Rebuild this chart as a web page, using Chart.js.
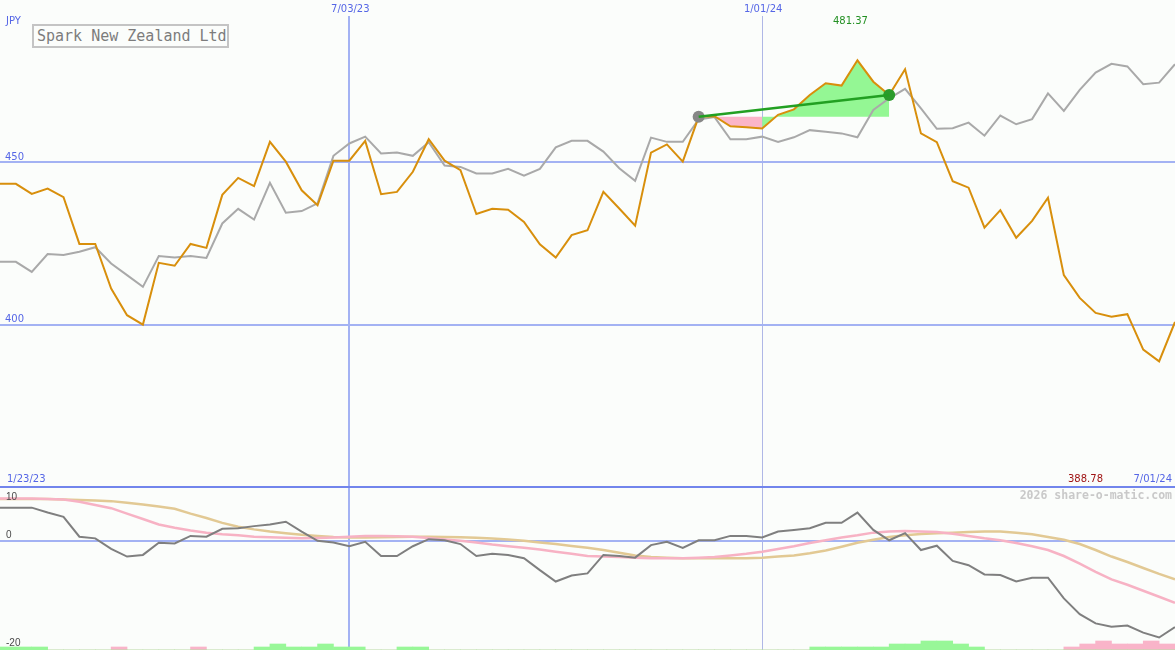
<!DOCTYPE html>
<html>
<head>
<meta charset="utf-8">
<title>Spark New Zealand Ltd</title>
<script src="https://cdn.jsdelivr.net/npm/chart.js@4.4.1/dist/chart.umd.min.js"></script>
<style>
  html, body { margin: 0; padding: 0; background: #fbfdfb; }
  #wrap { position: relative; width: 1175px; height: 650px; overflow: hidden; background: #fbfdfb; }
  #wrap canvas { position: absolute; left: 0; top: 0; }
  #title {
    position: absolute; left: 32px; top: 24px; width: 197px; height: 24px;
    box-sizing: border-box; border: 2px solid #c4c4c4; padding-left: 3px;
    font: 15px/20px "DejaVu Sans Mono", monospace; color: #7c7c7c;
    white-space: nowrap; background: #fbfdfb;
  }
</style>
</head>
<body>
<div id="wrap">
  <canvas id="priceChart" width="1175" height="650"></canvas>
  <canvas id="oscChart" width="1175" height="650"></canvas>
  <div id="title">Spark New Zealand Ltd</div>
</div>
<script>
// ---- weekly closes, Spark New Zealand Ltd (JPY) ----
const weeks = [
  '1/30/23','2/06/23','2/13/23','2/20/23','2/27/23','3/06/23','3/13/23','3/20/23','3/27/23','4/03/23',
  '4/10/23','4/17/23','4/24/23','5/01/23','5/08/23','5/15/23','5/22/23','5/29/23','6/05/23','6/12/23',
  '6/19/23','6/26/23','7/03/23','7/10/23','7/17/23','7/24/23','7/31/23','8/07/23','8/14/23','8/21/23',
  '8/28/23','9/04/23','9/11/23','9/18/23','9/25/23','10/02/23','10/09/23','10/16/23','10/23/23','10/30/23',
  '11/06/23','11/13/23','11/20/23','11/27/23','12/04/23','12/11/23','12/18/23','12/25/23','1/01/24','1/08/24',
  '1/15/24','1/22/24','1/29/24','2/05/24','2/12/24','2/19/24','2/26/24','3/04/24','3/11/24','3/18/24',
  '3/25/24','4/01/24','4/08/24','4/15/24','4/22/24','4/29/24','5/06/24','5/13/24','5/20/24','5/27/24',
  '6/03/24','6/10/24','6/17/24','6/24/24','7/01/24'
];

const price = [
  443.4, 443.4, 440.3, 441.9, 439.3, 424.9, 424.9, 411.2, 403.0, 400.1,
  419.1, 418.2, 424.9, 423.7, 440.0, 445.2, 442.7, 456.3, 450.2, 441.4,
  436.8, 450.5, 450.5, 456.6, 440.2, 440.9, 447.1, 457.1, 450.5, 447.6,
  434.1, 435.7, 435.4, 431.7, 424.8, 420.7, 427.6, 429.1, 440.9, 435.8,
  430.5, 453.0, 455.5, 450.2, 464.0, 464.2, 461.1, 460.8, 460.4, 464.6,
  466.3, 470.7, 474.3, 473.6, 481.37, 474.8, 470.7, 478.6, 458.9, 456.2,
  444.2, 442.2, 429.9, 435.3, 426.8, 432.0, 439.1, 415.3, 408.3, 403.7,
  402.5, 403.3, 392.4, 388.78, 400.9
];

// market index rebased to the same currency scale
const marketIndex = [
  419.4, 419.4, 416.3, 421.8, 421.5, 422.5, 423.9, 418.9, 415.3, 411.7,
  421.2, 420.7, 421.2, 420.6, 431.2, 435.7, 432.4, 443.7, 434.5, 435.0,
  437.4, 452.0, 455.8, 457.9, 452.7, 453.0, 452.0, 456.2, 449.0, 448.6,
  446.6, 446.6, 448.0, 445.9, 448.0, 454.6, 456.6, 456.6, 453.3, 448.2,
  444.3, 457.6, 456.3, 456.3, 463.2, 463.9, 457.1, 457.1, 457.9, 456.3,
  457.7, 459.9, 459.4, 458.9, 457.7, 466.1, 469.7, 472.6, 466.6, 460.3,
  460.5, 462.2, 458.2, 464.4, 461.7, 463.3, 471.2, 465.8, 472.3, 477.6,
  480.3, 479.5, 474.0, 474.5, 480.2
];

// oscillator panel
const momentum = [
  6.2, 6.2, 6.2, 5.3, 4.5, 0.85, 0.55, -1.4, -2.8, -2.5,
  -0.25, -0.4, 1.0, 0.85, 2.3, 2.4, 2.8, 3.1, 3.6, 1.8,
  0.1, -0.2, -0.9, -0.1, -2.7, -2.7, -0.9, 0.4, 0.2, -0.5,
  -2.7, -2.3, -2.5, -3.1, -5.3, -7.4, -6.3, -5.9, -2.5, -2.7,
  -3.0, -0.7, -0.1, -1.2, 0.2, 0.2, 1.0, 1.0, 0.7, 1.8,
  2.1, 2.4, 3.4, 3.4, 5.3, 2.1, 0.2, 1.5, -1.6, -0.8,
  -3.6, -4.4, -6.1, -6.2, -7.4, -6.7, -6.7, -10.5, -13.4, -15.1,
  -15.7, -15.5, -16.8, -17.7, -15.8
];
const signalLine = [
  7.9, 7.9, 7.9, 7.8, 7.7, 7.3, 6.7, 6.1, 5.1, 4.1,
  3.1, 2.5, 2.0, 1.6, 1.3, 1.1, 0.85, 0.75, 0.65, 0.55,
  0.6, 0.7, 0.85, 1.0, 1.0, 0.95, 0.85, 0.6, 0.35, 0.1,
  -0.2, -0.6, -0.9, -1.2, -1.5, -1.9, -2.3, -2.7, -2.8, -2.9,
  -3.0, -3.1, -3.1, -3.1, -3.0, -2.9, -2.6, -2.3, -1.9, -1.4,
  -0.9, -0.3, 0.2, 0.7, 1.1, 1.6, 1.8, 1.9, 1.8, 1.7,
  1.4, 1.0, 0.55, 0.2, -0.3, -0.9, -1.6, -2.7, -4.1, -5.6,
  -7.0, -8.0, -9.1, -10.2, -11.3
];
const slowLine = [
  7.8, 7.8, 7.8, 7.8, 7.7, 7.6, 7.5, 7.4, 7.1, 6.8,
  6.4, 6.0, 5.1, 4.3, 3.4, 2.7, 2.2, 1.8, 1.5, 1.2,
  1.0, 0.8, 0.7, 0.7, 0.75, 0.8, 0.85, 0.85, 0.8, 0.75,
  0.65, 0.5, 0.35, 0.1, -0.2, -0.5, -0.85, -1.2, -1.6, -2.1,
  -2.6, -2.9, -3.0, -3.1, -3.1, -3.1, -3.1, -3.1, -3.0, -2.8,
  -2.6, -2.2, -1.7, -1.0, -0.25, 0.3, 0.8, 1.1, 1.35, 1.5,
  1.6, 1.7, 1.8, 1.8, 1.6, 1.3, 0.8, 0.3, -0.5, -1.6,
  -2.8, -3.8, -4.9, -6.0, -7.0
];
// weekly strength blocks along the panel floor (+ green, - pink)
const strength = [
  1, 1, 1, 0, 0, 0, 0, -1, 0, 0,
  0, 0, -1, 0, 0, 0, 1, 2, 1, 1,
  2, 1, 1, 0, 0, 1, 1, 0, 0, 0,
  0, 0, 0, 0, 0, 0, 0, 0, 0, 0,
  0, 0, 0, 0, 0, 0, 0, 0, 0, 0,
  0, 1, 1, 1, 1, 1, 2, 2, 3, 3,
  2, 1, 0, 0, 0, 0, 0, -1, -2, -3,
  -2, -2, -3, -2, 0
];

const priceTicks = [400, 450];
const oscTicks = [10, 0, -20];
const dateLines = ['7/03/23', '1/01/24'];
const rangeStart = '1/23/23';
const rangeEnd = '7/01/24';
const trendFrom = '12/04/23';
const trendTo = '2/26/24';
const currency = 'JPY';
const watermark = '2026 share-o-matic.com';

// ---- styling ----
const BLUE_TEXT = '#5566e6';
const GRID_BLUE = '#a3b2f3';
const GRID_GREY = '#afb7e6';
const PANEL_EDGE = '#7285ec';
const ORANGE = '#d88f0c';
const GREY = '#a9a9a9';
const FILL_GREEN = '#94f794';
const FILL_PINK = '#fbb5c8';
const TREND_GREEN = '#22a022';

const X_MAX = weeks.length - 1;
const startIdx = weeks.indexOf(trendFrom);
const endIdx = weeks.indexOf(trendTo);
const yearIdx = weeks.indexOf(dateLines[1]);
const baseLevel = price[startIdx];

const hiVal = Math.max(...price);
const loVal = Math.min(...price);
const hiIdx = price.indexOf(hiVal);

const toXY = arr => arr.map((v, i) => ({ x: i, y: v }));
const span = (arr, a, b) => arr.slice(a, b + 1).map((v, k) => ({ x: a + k, y: v }));

const xScale = () => ({
  type: 'linear', min: 0, max: X_MAX, offset: false,
  afterBuildTicks: s => { s.ticks = dateLines.map(d => ({ value: weeks.indexOf(d) })); },
  ticks: { display: false },
  border: { display: false },
  grid: {
    offset: false,
    drawTicks: false,
    color: c => (c.index === 0 ? GRID_BLUE : GRID_GREY),
    lineWidth: c => (c.index === 0 ? 2 : 1)
  }
});

const lineDefaults = { pointRadius: 0, tension: 0, fill: false };

// labels drawn on the price panel
const priceText = {
  id: 'priceText',
  afterDraw(chart) {
    const { ctx } = chart;
    const x = chart.scales.x, y = chart.scales.y;
    ctx.save();
    ctx.font = '10px "DejaVu Sans"';
    ctx.fillStyle = BLUE_TEXT;
    ctx.textAlign = 'left';
    ctx.textBaseline = 'middle';
    ctx.fillText(currency, 6, 21);
    ctx.textBaseline = 'alphabetic';
    y.ticks.forEach(t => ctx.fillText(String(t.value), 5, y.getPixelForValue(t.value) - 2.5));
    ctx.textAlign = 'center';
    ctx.textBaseline = 'middle';
    x.ticks.forEach(t => ctx.fillText(weeks[t.value], x.getPixelForValue(t.value) + 1, 9));
    ctx.textAlign = 'left';
    ctx.fillText(rangeStart, 7, 479);
    ctx.textAlign = 'right';
    ctx.fillText(rangeEnd, chart.width - 3, 479);
    ctx.fillStyle = '#a01414';
    ctx.fillText(loVal.toFixed(2), chart.width - 72, 479);
    ctx.fillStyle = '#239023';
    ctx.textAlign = 'center';
    ctx.fillText(hiVal.toFixed(2), x.getPixelForValue(hiIdx) - 7, 21);
    ctx.restore();
  }
};

// labels drawn on the oscillator panel
const oscText = {
  id: 'oscText',
  afterDraw(chart) {
    const { ctx, chartArea } = chart;
    const y = chart.scales.y;
    ctx.save();
    ctx.font = '10px "Liberation Sans"';
    ctx.fillStyle = '#4a4a4a';
    ctx.textAlign = 'left';
    ctx.textBaseline = 'alphabetic';
    oscTicks.forEach(v => {
      const py = Math.min(Math.max(y.getPixelForValue(v) - 3, chartArea.top + 13), chartArea.bottom - 4);
      ctx.fillText(String(v), 6, py);
    });
    ctx.font = 'bold 11.5px "DejaVu Sans Mono"';
    ctx.fillStyle = '#c9c9c9';
    ctx.textAlign = 'right';
    ctx.textBaseline = 'middle';
    ctx.fillText(watermark, chart.width - 3, 496);
    ctx.restore();
  }
};

Chart.defaults.font.family = '"DejaVu Sans", sans-serif';

new Chart(document.getElementById('priceChart'), {
  type: 'line',
  data: {
    datasets: [
      { label: 'trend', data: [{ x: startIdx, y: price[startIdx] }, { x: endIdx, y: price[endIdx] }],
        borderColor: TREND_GREEN, borderWidth: 2.5, ...lineDefaults, order: 0 },
      { label: 'ends', data: [{ x: startIdx, y: price[startIdx] }, { x: endIdx, y: price[endIdx] }],
        showLine: false, pointRadius: 6, pointBorderWidth: 0,
        pointBackgroundColor: ['#878787', '#2b9b2b'], order: 1 },
      { label: 'Spark New Zealand Ltd', data: toXY(price), borderColor: ORANGE, borderWidth: 2,
        ...lineDefaults, order: 2 },
      { label: 'Index', data: toXY(marketIndex), borderColor: GREY, borderWidth: 2,
        ...lineDefaults, order: 3 },
      { label: 'below start', data: span(price, startIdx, yearIdx), borderColor: 'rgba(0,0,0,0)',
        pointRadius: 0, tension: 0,
        fill: { target: { value: baseLevel }, above: FILL_PINK, below: FILL_PINK }, order: 4 },
      { label: 'since start', data: span(price, yearIdx, endIdx), borderColor: 'rgba(0,0,0,0)',
        pointRadius: 0, tension: 0,
        fill: { target: { value: baseLevel }, above: FILL_GREEN, below: FILL_GREEN }, order: 4 }
    ]
  },
  options: {
    responsive: false, animation: false, devicePixelRatio: 1,
    layout: { autoPadding: false, padding: { top: 16, bottom: 162.5, left: 0, right: 0 } },
    plugins: { legend: { display: false }, tooltip: { enabled: false } },
    scales: {
      x: xScale(),
      y: {
        type: 'linear', min: 350, max: 495,
        afterBuildTicks: s => { s.ticks = priceTicks.map(v => ({ value: v })); },
        ticks: { display: false }, border: { display: false },
        grid: { drawTicks: false, color: GRID_BLUE, lineWidth: 2 }
      }
    }
  },
  plugins: [priceText]
});

new Chart(document.getElementById('oscChart'), {
  type: 'line',
  data: {
    datasets: [
      { label: 'momentum', data: toXY(momentum), borderColor: '#7f7f7f', borderWidth: 2, ...lineDefaults, order: 0 },
      { label: 'signal', data: toXY(signalLine), borderColor: '#f7b2c4', borderWidth: 2.5, ...lineDefaults, order: 1 },
      { label: 'slow', data: toXY(slowLine), borderColor: '#e2c994', borderWidth: 2.5, ...lineDefaults, order: 2 },
      { type: 'bar', label: 'up', yAxisID: 'yh',
        data: strength.map((v, i) => ({ x: i + 0.5, y: v > 0 ? v : 0 })),
        backgroundColor: '#98f798', borderWidth: 0, barPercentage: 1, categoryPercentage: 1, grouped: false, order: 3 },
      { type: 'bar', label: 'down', yAxisID: 'yh',
        data: strength.map((v, i) => ({ x: i + 0.5, y: v < 0 ? -v : 0 })),
        backgroundColor: '#f9b4c9', borderWidth: 0, barPercentage: 1, categoryPercentage: 1, grouped: false, order: 3 }
    ]
  },
  options: {
    responsive: false, animation: false, devicePixelRatio: 1,
    layout: { autoPadding: false, padding: { top: 487, bottom: 0, left: 0, right: 0 } },
    plugins: { legend: { display: false }, tooltip: { enabled: false } },
    scales: {
      x: xScale(),
      y: {
        type: 'linear', min: -20, max: 10,
        afterBuildTicks: s => { s.ticks = [{ value: 0 }, { value: 10 }]; },
        ticks: { display: false }, border: { display: false },
        grid: { drawTicks: false, lineWidth: 2,
                color: c => (c.tick && c.tick.value === 10 ? PANEL_EDGE : GRID_BLUE) }
      },
      yh: { type: 'linear', display: false, min: 0, max: 54.33 }
    }
  },
  plugins: [oscText]
});
</script>
</body>
</html>
